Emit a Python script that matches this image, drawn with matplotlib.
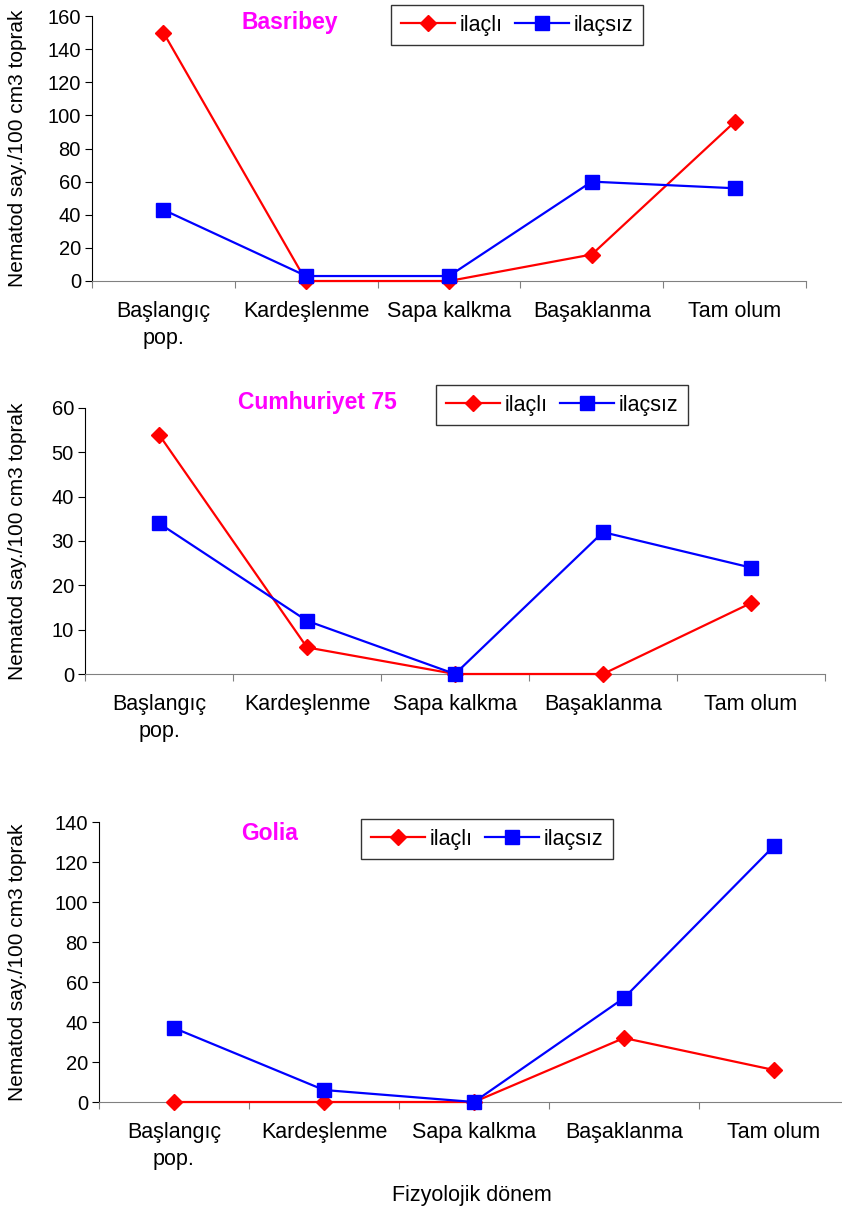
import numpy as np
import matplotlib
matplotlib.use('Agg')
import matplotlib.pyplot as plt

plt.rcParams['font.family'] = ['Liberation Sans', 'DejaVu Sans']

categories = ['Başlangıç\npop.', 'Kardeşlenme', 'Sapa kalkma', 'Başaklanma', 'Tam olum']
series_names = ['ilaçlı', 'ilaçsız']

basribey_ilacli = [150, 0, 0, 16, 96]
basribey_ilacsiz = [43, 3, 3, 60, 56]
cumhuriyet_ilacli = [54, 6, 0, 0, 16]
cumhuriyet_ilacsiz = [34, 12, 0, 32, 24]
golia_ilacli = [0, 0, 0, 32, 16]
golia_ilacsiz = [37, 6, 0, 52, 128]

titles = ['Basribey', 'Cumhuriyet 75', 'Golia']
ymax = [160, 60, 140]
ystep = [20, 10, 20]

W, H = 842, 1215
fig = plt.figure(figsize=(W / 100, H / 100), dpi=100)

# axes boxes in pixels: left, top, right, bottom
boxes = [(92, 16, 806, 281), (85, 408, 825, 674), (99, 822, 849, 1102)]
# legend top-left corners in pixels
leg_pos = [(391, 5), (436, 385), (361, 819)]
# title centers in pixels
title_pos = [(290, 22), (317, 403), (270, 833)]

data = [(basribey_ilacli, basribey_ilacsiz),
        (cumhuriyet_ilacli, cumhuriyet_ilacsiz),
        (golia_ilacli, golia_ilacsiz)]

fs = 15.5
for k in range(3):
    l, t, r, b = boxes[k]
    ax = fig.add_axes([l / W, 1 - b / H, (r - l) / W, (b - t) / H])
    x = np.arange(len(categories))
    y1, y2 = data[k]
    ax.plot(x, y1, color='#ff0000', lw=1.6, marker='D', ms=8.5, label=series_names[0], clip_on=False, zorder=3)
    ax.plot(x, y2, color='#0000ff', lw=1.6, marker='s', ms=10, label=series_names[1], clip_on=False, zorder=3)
    ax.set_xlim(-0.5, len(categories) - 0.5)
    ax.set_ylim(0, ymax[k])
    ax.set_yticks(np.arange(0, ymax[k] + 1, ystep[k]))
    ax.set_xticks(np.arange(-0.5, len(categories), 1.0))
    ax.set_xticklabels([])
    ax.set_xticks(x, minor=True)
    ax.set_xticklabels(categories, minor=True, fontsize=fs, linespacing=1.35, va='top')
    ax.tick_params(axis='x', which='minor', length=0, pad=14.5)
    ax.tick_params(axis='x', which='major', length=5, color='#808080', direction='out')
    ax.tick_params(axis='y', length=5, direction='out', labelsize=14.5, pad=3)
    for s in ['top', 'right']:
        ax.spines[s].set_visible(False)
    ax.spines['bottom'].set_color('#808080')
    ax.spines['left'].set_color('black')
    ax.patch.set_alpha(0)

    tx, ty = title_pos[k]
    fig.text(tx / W, 1 - ty / H, titles[k], color='#ff00ff', fontsize=16.5, fontweight='bold',
             ha='center', va='center')
    fig.text(18 / W, 1 - (t + b) / 2 / H, 'Nematod say./100 cm3 toprak', rotation=90,
             fontsize=15, ha='center', va='center')

    lx, ly = leg_pos[k]
    leg = ax.legend(loc='upper left', bbox_to_anchor=(lx / W, 1 - ly / H), bbox_transform=fig.transFigure,
                    ncol=2, fontsize=fs, frameon=True, fancybox=False, borderaxespad=0,
                    handlelength=2.5, columnspacing=0.55, handletextpad=0.25, borderpad=0.45)
    leg.get_frame().set_edgecolor('black')
    leg.get_frame().set_linewidth(1.0)

fig.text(472 / W, 1 - 1196 / H, 'Fizyolojik dönem', fontsize=15.5, ha='center', va='center')

fig.savefig('out.png', dpi=100)
